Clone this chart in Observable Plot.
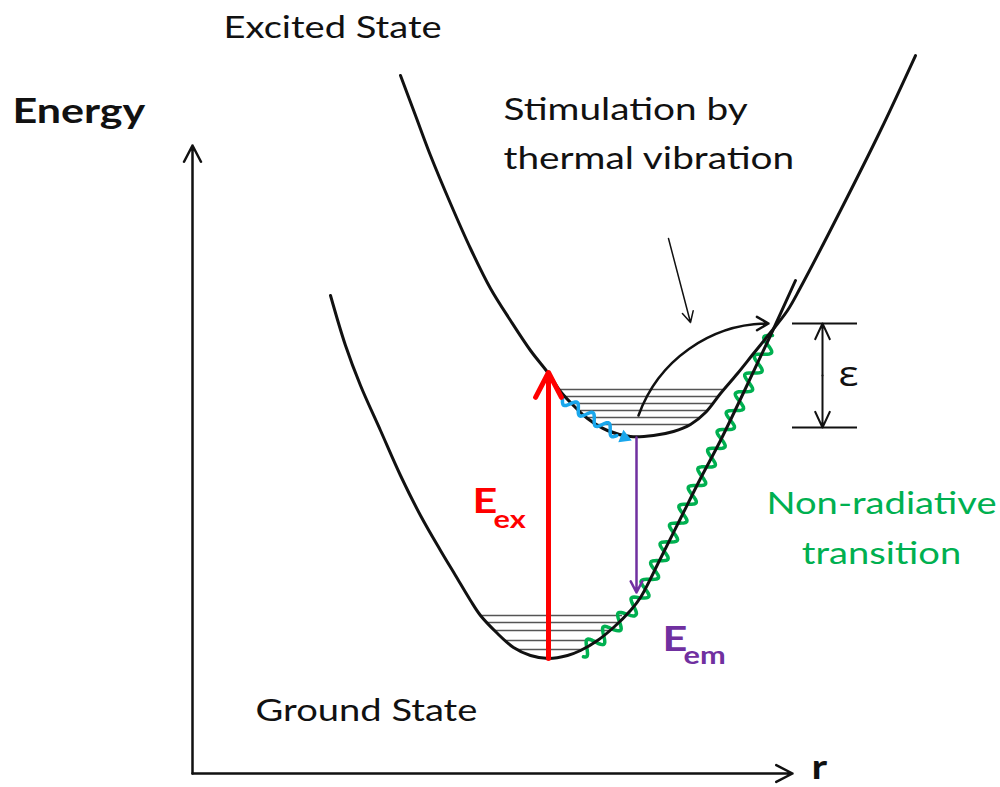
<!DOCTYPE html>
<html>
<head>
<meta charset="utf-8">
<script src="https://cdn.jsdelivr.net/npm/d3@7"></script>
<script src="https://cdn.jsdelivr.net/npm/@observablehq/plot@0.6"></script>
<style>
  html, body { margin: 0; padding: 0; background: #fff; }
</style>
</head>
<body>
<div id="chart"></div>
<script>
// Potential-energy diagram: r is the configuration coordinate, E the energy,
// both in arbitrary diagram units measured from the axis origin.

// Ground-state potential curve (r, E)
const groundCurve = [
  [138, 478], [153, 428], [168, 388], [188, 343], [208, 298], [228, 258],
  [248, 223], [263, 198], [278, 173], [288, 158], [305, 140], [321, 126],
  [338, 118], [356, 115], [375, 118], [388, 123], [405, 133], [421, 146],
  [438, 163], [448, 176], [468, 215], [488, 255], [508, 295], [528, 333],
  [553, 385], [578, 438], [603, 493]
];

// Excited-state potential curve (r, E)
const excitedCurve = [
  [208, 698], [223, 658], [238, 618], [258, 570], [278, 525], [298, 485],
  [318, 453], [338, 423], [356, 400], [368, 382], [380, 369], [395, 355],
  [415, 343], [438, 337], [461, 338], [481, 342], [498, 349], [513, 361],
  [528, 380], [545, 400], [561, 420], [578, 441], [595, 463], [608, 486],
  [648, 563], [688, 643], [723, 718]
];

// Vibrational levels: [E, r at left wall, r at right wall]
const groundLevels = [
  [158, 288, 430], [151, 295, 425], [143, 302, 417], [133, 313, 405], [124, 325, 390]
];
const excitedLevels = [
  [384, 367, 531], [377, 373, 526], [370, 379, 520],
  [363, 386, 515], [356, 394, 507], [349, 405, 498]
];

// Radiative transitions: absorption (up) and emission (down)
const excitation = [{r: 356, from: 115, to: 401}];
const emission = [{r: 444, from: 336, to: 181}];

// Vibrational relaxation in the excited well, ending at its minimum
const relaxationPath = [[370, 375], [388, 363], [408, 350], [425, 339]];
const relaxationTip = [{r: 432, E: 336, angle: 112}];

// Non-radiative return along the ground-state curve, from the crossing downwards
const nonRadiativePath = [
  [580, 438], [553, 385], [528, 333], [508, 295], [488, 255], [468, 215],
  [448, 176], [438, 163], [421, 146], [405, 133], [388, 121]
];

// Thermal activation from the excited minimum up to the crossing point
const thermalJump = [{r1: 446, E1: 358, r2: 576, E2: 450}];
const pointer = [{r1: 476, E1: 535, r2: 498, E2: 451}];

// Activation barrier ε between excited minimum and the crossing
const barrier = {r: 630, r1: 600, r2: 665, low: 346, high: 450};

// Axes (origin at 0, 0)
const axisArrows = [
  {r1: 0, E1: 0, r2: 0, E2: 628},
  {r1: 0, E1: 0, r2: 600, E2: 0}
];

// Text
const stateLabels = [
  {label: "Excited State", r: 31, E: 736},
  {label: "Ground State", r: 63, E: 53}
];
const noteLines = [
  {label: "Stimulation by", r: 311, E: 654},
  {label: "thermal vibration", r: 311, E: 605}
];
const nonRadiativeLines = [
  {label: "Non-radiative", r: 689, E: 260},
  {label: "transition", r: 689, E: 210}
];
const energyTitle = [{label: "Energy", r: -180, E: 651}];
const rTitle = [{label: "r", r: 619, E: -5}];
const energySymbols = [
  {main: "E", sub: "ex", r: 280, E: 261, subR: 301, subE: 246, color: "#ff0000"},
  {main: "E", sub: "em", r: 470, E: 123, subR: 491, subE: 110, color: "#7030a0"}
];
const barrierSymbol = [{label: "ε", r: 646, E: 388}];

// A line curve that draws a sine wiggle along the path it is given.
function wavy(amplitude, wavelength) {
  return (context) => {
    let pts;
    return {
      areaStart() {}, areaEnd() {},
      lineStart() { pts = []; },
      point(x, y) { pts.push([+x, +y]); },
      lineEnd() {
        let s = 0, first = true;
        for (let i = 0; i < pts.length - 1; ++i) {
          const [x0, y0] = pts[i], [x1, y1] = pts[i + 1];
          const len = Math.hypot(x1 - x0, y1 - y0);
          if (!len) continue;
          const nx = -(y1 - y0) / len, ny = (x1 - x0) / len;
          const steps = Math.max(1, Math.ceil(len / 1.2));
          for (let j = i === 0 ? 0 : 1; j <= steps; ++j) {
            const t = j / steps;
            const o = amplitude * Math.sin(2 * Math.PI * (s + t * len) / wavelength);
            const px = x0 + t * (x1 - x0) + o * nx;
            const py = y0 + t * (y1 - y0) + o * ny;
            if (first) { context.moveTo(px, py); first = false; }
            else context.lineTo(px, py);
          }
          s += len;
        }
      }
    };
  };
}

const FONT = "Lato, 'Open Sans', sans-serif";
const INK = "#111";

const chart = Plot.plot({
  width: 1000,
  height: 787,
  margin: 0,
  x: {domain: [-192, 808], axis: null},
  y: {domain: [-14, 773], axis: null},
  style: {background: "#fff", overflow: "visible"},
  marks: [
    // axes
    Plot.arrow(axisArrows, {x1: "r1", y1: "E1", x2: "r2", y2: "E2", stroke: INK, strokeWidth: 2.5, headLength: 11, headAngle: 55}),

    // vibrational levels
    Plot.ruleY(groundLevels, {y: d => d[0], x1: d => d[1], x2: d => d[2], stroke: "#555", strokeWidth: 1.4}),
    Plot.ruleY(excitedLevels, {y: d => d[0], x1: d => d[1], x2: d => d[2], stroke: "#555", strokeWidth: 1.4}),

    // non-radiative relaxation wiggle
    Plot.line(nonRadiativePath, {x: d => d[0], y: d => d[1], stroke: "#00b050", strokeWidth: 3.5, curve: wavy(7, 21)}),

    // potential curves
    Plot.line(groundCurve, {x: d => d[0], y: d => d[1], stroke: INK, strokeWidth: 3, curve: "catmull-rom"}),
    Plot.line(excitedCurve, {x: d => d[0], y: d => d[1], stroke: INK, strokeWidth: 3, curve: "catmull-rom"}),

    // vibrational relaxation in the excited state
    Plot.line(relaxationPath, {x: d => d[0], y: d => d[1], stroke: "#1aa7ec", strokeWidth: 3.5, curve: wavy(5, 19)}),
    Plot.dot(relaxationTip, {x: "r", y: "E", symbol: "triangle2", r: 6.5, fill: "#1aa7ec", rotate: "angle"}),

    // barrier ε
    Plot.ruleY([barrier.high, barrier.low], {x1: barrier.r1, x2: barrier.r2, stroke: INK, strokeWidth: 2}),
    Plot.arrow([barrier], {x1: "r", x2: "r", y1: d => (d.low + d.high) / 2, y2: "high", stroke: INK, strokeWidth: 2, headLength: 14, headAngle: 50}),
    Plot.arrow([barrier], {x1: "r", x2: "r", y1: d => (d.low + d.high) / 2, y2: "low", stroke: INK, strokeWidth: 2, headLength: 14, headAngle: 50}),

    // thermal activation and its pointer
    Plot.arrow(thermalJump, {x1: "r1", y1: "E1", x2: "r2", y2: "E2", bend: 35, stroke: INK, strokeWidth: 2.5, headLength: 8, headAngle: 60}),
    Plot.arrow(pointer, {x1: "r1", y1: "E1", x2: "r2", y2: "E2", stroke: INK, strokeWidth: 1.5, headLength: 12, headAngle: 55}),

    // excitation and emission
    Plot.arrow(excitation, {x1: "r", x2: "r", y1: "from", y2: "to", stroke: "#ff0000", strokeWidth: 5, headLength: 8.4, headAngle: 55}),
    Plot.arrow(emission, {x1: "r", x2: "r", y1: "from", y2: "to", stroke: "#7030a0", strokeWidth: 2.5, headLength: 7.5, headAngle: 55}),

    // text
    Plot.text(stateLabels, {x: "r", y: "E", text: "label", textAnchor: "start", lineAnchor: "bottom", fontSize: 31, fontFamily: FONT, fill: INK}),
    Plot.text(noteLines, {x: "r", y: "E", text: "label", textAnchor: "start", lineAnchor: "bottom", fontSize: 31.5, fontFamily: FONT, fill: INK}),
    Plot.text(nonRadiativeLines, {x: "r", y: "E", text: "label", textAnchor: "middle", lineAnchor: "bottom", fontSize: 31, fontFamily: FONT, fill: "#00b050"}),
    Plot.text(energyTitle, {x: "r", y: "E", text: "label", textAnchor: "start", lineAnchor: "bottom", fontSize: 35, fontWeight: "bold", fontFamily: FONT, fill: INK}),
    Plot.text(rTitle, {x: "r", y: "E", text: "label", textAnchor: "start", lineAnchor: "bottom", fontSize: 34, fontWeight: "bold", fontFamily: FONT, fill: INK}),
    Plot.text(energySymbols, {x: "r", y: "E", text: "main", textAnchor: "start", lineAnchor: "bottom", fontSize: 35, fontWeight: "bold", fontFamily: FONT, fill: "color"}),
    Plot.text(energySymbols, {x: "subR", y: "subE", text: "sub", textAnchor: "start", lineAnchor: "bottom", fontSize: 25, fontWeight: "bold", fontFamily: FONT, fill: "color"}),
    Plot.text(barrierSymbol, {x: "r", y: "E", text: "label", textAnchor: "start", lineAnchor: "bottom", fontSize: 34, fontFamily: "'Open Sans', sans-serif", fill: INK})
  ]
});

document.getElementById("chart").appendChild(chart);

// widen the lettering slightly so the labels keep their proportions
const STRETCH = 1.23;
d3.select(chart).selectAll("text").each(function () {
  const w = this.getComputedTextLength();
  if (w > 0) {
    this.setAttribute("textLength", (w * STRETCH).toFixed(1));
    this.setAttribute("lengthAdjust", "spacingAndGlyphs");
  }
});
</script>
</body>
</html>
